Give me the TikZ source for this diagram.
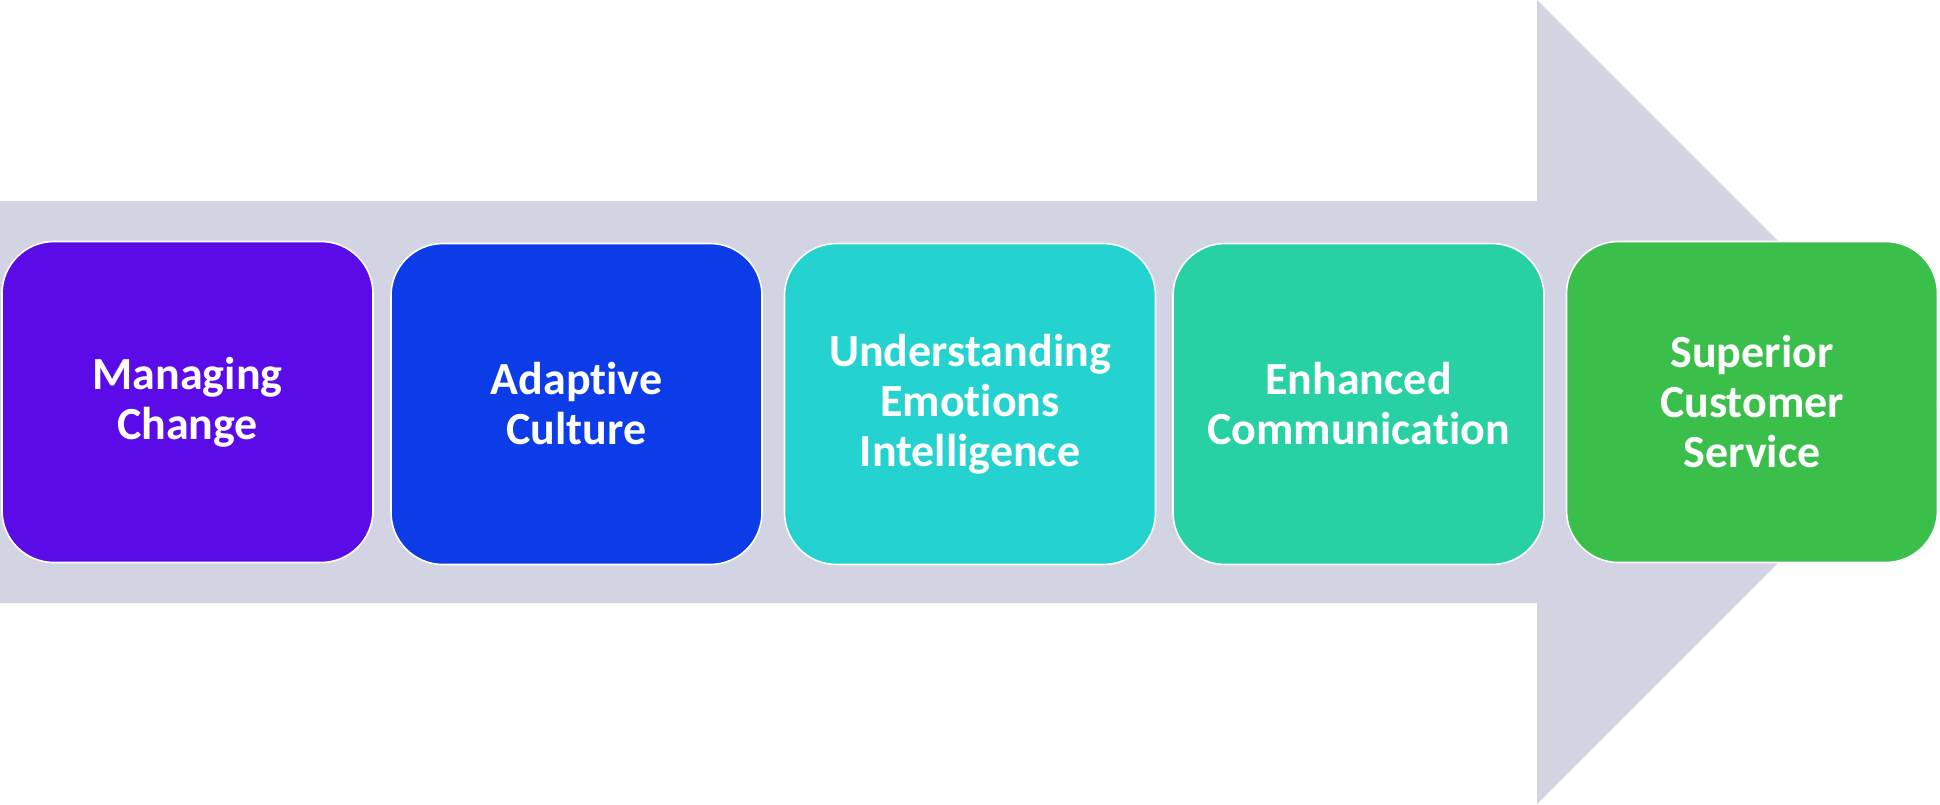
\documentclass[tikz,border=0pt]{standalone}
\usepackage{fontspec}
\setmainfont{Carlito}[Ligatures={NoCommon,NoContextual,NoRare}]
\definecolor{arrowc}{HTML}{D2D3E3}
\definecolor{c1}{HTML}{5B0BE8}
\definecolor{c2}{HTML}{0C3CE8}
\definecolor{c3}{HTML}{24D2D0}
\definecolor{c4}{HTML}{27D1A3}
\definecolor{c5}{HTML}{3AC04A}
\tikzset{
  stepbox/.style={rectangle, rounded corners=52pt, draw=white, line width=1.6pt,
    minimum width=371pt, minimum height=321pt, inner sep=0pt, text=white,
    align=center, font=\fontsize{46}{50}\selectfont\bfseries}
}
\begin{document}
\begin{tikzpicture}[x=1pt,y=-1pt]
\useasboundingbox (0,0) rectangle (1940,804);
\fill[arrowc] (0,201) -- (1537,201) -- (1537,0) -- (1939,402) -- (1537,804) -- (1537,603) -- (0,603) -- cycle;
\node[stepbox, fill=c1] (b1) at (187.5,402) {Managing\\Change};
\node[stepbox, fill=c2] (b2) at (576.5,404) {Adaptive\\Culture};
\node[stepbox, fill=c3] (b3) at (970,404) {Understanding\\Emotions\\Intelligence};
\node[stepbox, fill=c4] (b4) at (1358.5,404) {Enhanced\\Communication};
\node[stepbox, fill=c5] (b5) at (1752,402) {Superior\\Customer\\Service};
\end{tikzpicture}
\end{document}
